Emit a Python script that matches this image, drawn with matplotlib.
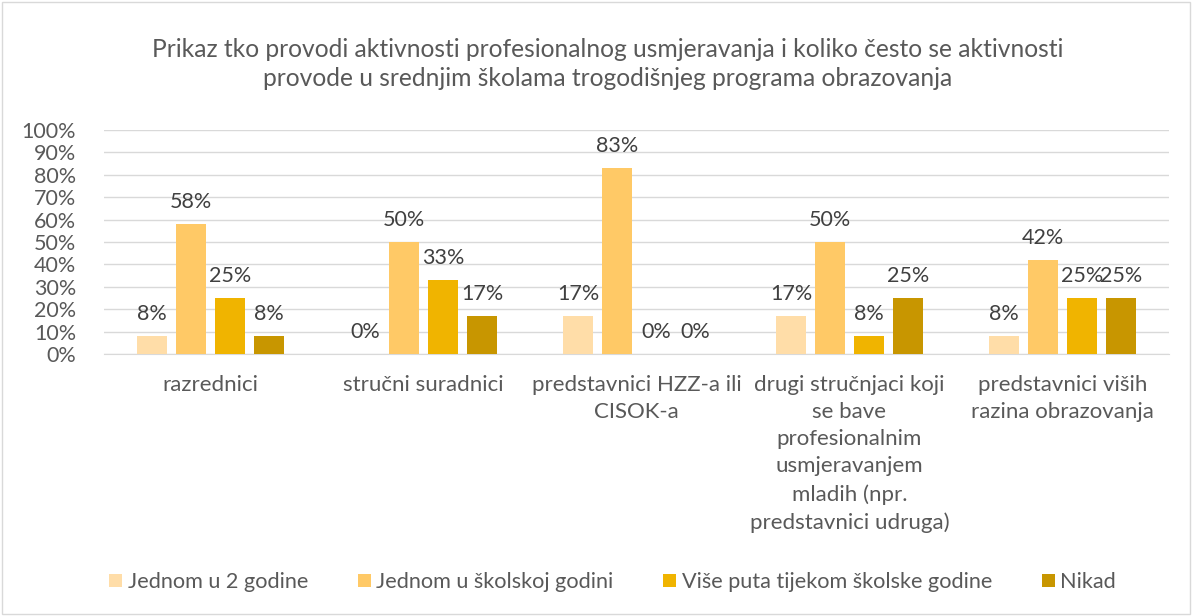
import matplotlib.pyplot as plt
import numpy as np
from matplotlib.patches import Rectangle

categories = ['razrednici', 'stručni suradnici', 'predstavnici HZZ-a ili\nCISOK-a',
              'drugi stručnjaci koji\nse bave\nprofesionalnim\nusmjeravanjem\nmladih (npr.\npredstavnici udruga)',
              'predstavnici viših\nrazina obrazovanja']
series_names = ['Jednom u 2 godine', 'Jednom u školskoj godini',
                'Više puta tijekom školske godine', 'Nikad']
jednom_2 = [8, 0, 17, 17, 8]
jednom_god = [58, 50, 83, 50, 42]
vise_puta = [25, 33, 0, 8, 25]
nikad = [8, 17, 0, 25, 25]
values = [jednom_2, jednom_god, vise_puta, nikad]
colors = ['#FFDDA8', '#FFC966', '#F0B400', '#C89600']

plt.rcParams['font.family'] = ['Lato', 'DejaVu Sans']

fig = plt.figure(figsize=(11.92, 6.16), dpi=100)
fig.patches.append(Rectangle((0.002, 0.003), 0.996, 0.994, transform=fig.transFigure,
                             fill=False, edgecolor='#D9D9D9', linewidth=1))
ax = fig.add_axes([0.0872, 0.4253, 0.8935, 0.3637])

x = np.arange(len(categories))
step = 0.183
width = 0.141
for i, (vals, c, name) in enumerate(zip(values, colors, series_names)):
    pos = x + (i - 1.5) * step
    ax.bar(pos, [v / 100 for v in vals], width, color=c, label=name, zorder=3)
    for p, v in zip(pos, vals):
        ax.text(p, v / 100 + 0.055, f'{v}%', ha='center', va='bottom',
                fontsize=15.5, color='#404040')

ax.set_xlim(-0.5, len(categories) - 0.5)
ax.set_ylim(0, 1)
ax.set_yticks(np.arange(0, 1.01, 0.1))
ax.set_yticklabels([f'{int(round(t * 100))}%' for t in np.arange(0, 1.01, 0.1)])
ax.yaxis.grid(True, color='#D9D9D9', linewidth=1, zorder=0)
ax.set_axisbelow(True)
for s in ['top', 'right', 'left']:
    ax.spines[s].set_visible(False)
ax.spines['bottom'].set_color('#D9D9D9')
ax.tick_params(axis='y', length=0, labelsize=15.5, labelcolor='#595959', pad=20)
ax.tick_params(axis='x', length=0, labelsize=16, labelcolor='#595959', pad=15)
ax.set_xticks(x)
ax.set_xticklabels(categories, linespacing=1.45, va='top')

fig.text(0.51, 0.896, 'Prikaz tko provodi aktivnosti profesionalnog usmjeravanja i koliko često se aktivnosti\n'
         'provode u srednjim školama trogodišnjeg programa obrazovanja',
         ha='center', va='center', fontsize=17.7, color='#595959', linespacing=1.3)

fig.legend(loc='center', bbox_to_anchor=(0.514, 0.055), ncol=4, frameon=False,
           fontsize=15.6, handlelength=0.6, handleheight=0.6, handletextpad=0.25,
           columnspacing=2.3, labelcolor='#595959')

fig.savefig('out.png', dpi=100)
